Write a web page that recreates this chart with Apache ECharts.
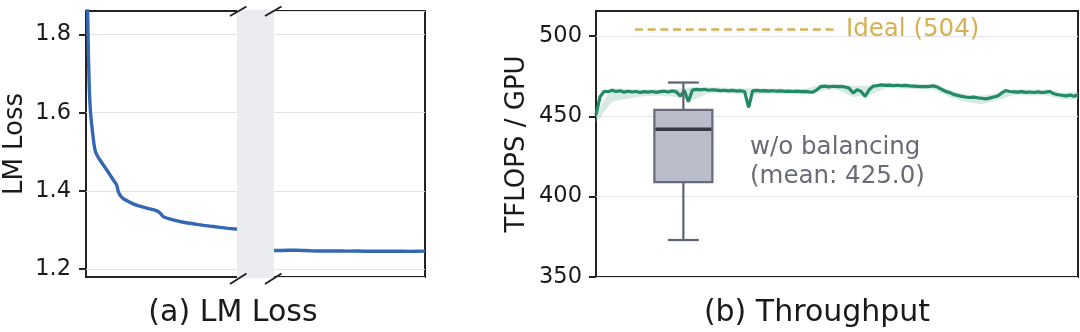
<!DOCTYPE html>
<html>
<head>
<meta charset="utf-8">
<script src="https://cdn.jsdelivr.net/npm/echarts@6/dist/echarts.min.js"></script>
<style>
  html, body { margin: 0; padding: 0; background: #ffffff; }
  #chart { width: 1080px; height: 332px; }
</style>
</head>
<body>
<div id="chart"></div>
<script>
// ---------- data ----------
// (a) LM loss, left segment: [step, loss]
const lossEarly = [[0,1.95],[1.0,1.862],[1.6,1.75],[2.2,1.66],[3.0,1.60],[4.4,1.547],[5.9,1.505],
  [7.2,1.492],[9.2,1.479],[13.6,1.454],[15.8,1.441],[18.0,1.428],[20.2,1.415],[21.3,1.398],
  [22.8,1.387],[24.6,1.380],[31.1,1.367],[35.5,1.361],[39.9,1.356],[44.3,1.352],[47.6,1.347],
  [49.3,1.341],[50.9,1.334],[57.4,1.326],[64.0,1.320],[70.6,1.316],[77.2,1.312],[83.8,1.309],
  [92.5,1.305],[100,1.302]];
// (a) LM loss, right segment (after the axis break)
const lossLate = [[100,1.2478],[105,1.2476],[110,1.2482],[115,1.2486],[120,1.2479],[125,1.2470],
  [130,1.2466],[135,1.2468],[140,1.2463],[145,1.2465],[150,1.2461],[155,1.2464],[160,1.2459],
  [165,1.2462],[170,1.2458],[175,1.2461],[180,1.2457],[185,1.2460],[190,1.2456],[195,1.2459],[200,1.2462]];
const lossTicks = [1.2, 1.4, 1.6, 1.8];

// (b) throughput, one value every 2 steps (steps 0..240)
const tflops = [
  451, 462, 465.5, 465.3, 466.2, 465.4, 465.9, 465.0, 465.6, 465.1,
  465.4, 464.8, 465.3, 465.0, 465.4, 464.9, 465.3, 465.6, 465.1, 465.8,
  465.2, 462.5, 466.0, 459.0, 466.3, 466.7, 466.4, 466.8, 466.2, 466.5,
  466.3, 466.0, 466.2, 465.8, 466.1, 465.7, 465.9, 465.4, 455.5, 465.8,
  466.1, 465.8, 466.0, 465.7, 465.9, 465.6, 465.8, 465.5, 465.7, 465.4,
  465.6, 465.3, 465.5, 465.2, 465.0, 466.5, 468.5, 468.8, 468.3, 468.7,
  468.4, 468.6, 468.2, 467.5, 464.5, 466.5, 465.5, 462.3, 466.5, 468.8,
  469.1, 469.5, 469.2, 469.4, 469.0, 469.3, 469.0, 469.2, 468.9, 468.8,
  468.6, 468.5, 468.4, 468.6, 468.9, 468.2, 466.8, 465.5, 464.8, 463.6,
  463.0, 462.4, 462.0, 461.7, 461.9, 461.5, 461.2, 460.8, 461.3, 462.0,
  462.6, 464.5, 466.0, 465.4, 465.2, 465.0, 465.3, 464.9, 465.1, 464.8,
  465.2, 464.8, 465.0, 465.5, 464.0, 463.4, 463.1, 462.7, 463.2, 462.5,
  463.4
];
const tflopsStep = 2;
// shaded min/max band around the throughput line
const bandSteps = [0,8,16,24,32,40,48,56,64,72,80,88,96,104,112,120,128,136,144,152,160,168,176,184,192,200,208,216,224,232,240];
const bandLow  = [446,459,461,462.5,463,462,460,464.5,464.3,463.8,463.5,464,463.8,463.5,466,466.8,462,463,467.5,467.3,466.8,466.8,462,459,457.5,460,463.2,463,463,460.8,460.5];
const bandHigh = [452,467.5,467,466.8,466.8,467,468,468,467.7,467.4,467.5,467.3,467.1,467,470,470,469,469,470.8,470.6,470.1,470.3,466.5,463.6,462.8,464.5,466.8,466.6,466.6,464.8,465];
// ideal throughput line
const idealValue = 504;
const idealSteps = [19.4, 120];
// box plot for "w/o balancing": [min, Q1, median, Q3, max]
const boxStep = 43.5;
const boxStats = [373, 409, 442, 454, 471];
const tflopsTicks = [350, 400, 450, 500];

// ---------- styles ----------
const FONT = 'DejaVu Sans';
const DARK = '#222222';
const GRIDC = '#e2e3ea';
const BLUE = '#3467b4';
const GREEN = '#228a68';
const GOLD = '#d6b052';
const GREYTXT = '#696b77';

const chart = echarts.init(document.getElementById('chart'), null, {renderer: 'canvas'});

function hiddenX(grid, min, max) {
  return {type: 'value', gridIndex: grid, min: min, max: max,
    axisLine: {show: false}, axisTick: {show: false}, axisLabel: {show: false}, splitLine: {show: false}};
}
const gridBox = {show: true, borderColor: DARK, borderWidth: 2, backgroundColor: 'transparent', containLabel: false};

const option = {
  animation: false,
  textStyle: {fontFamily: FONT},
  grid: [
    Object.assign({left: 86, top: 11, width: 152, height: 266}, gridBox),
    Object.assign({left: 273, top: 11, width: 152, height: 266}, gridBox),
    Object.assign({left: 596, top: 11, width: 482, height: 266}, gridBox)
  ],
  xAxis: [hiddenX(0, 0, 100), hiddenX(1, 100, 200), hiddenX(2, 0, 240)],
  yAxis: [
    {type: 'value', gridIndex: 0, min: 1.18, max: 1.86, splitNumber: 3,
      name: 'LM Loss', nameLocation: 'middle', nameGap: 58,
      nameTextStyle: {fontSize: 26, color: '#1a1a1a', fontFamily: FONT},
      axisLine: {show: false},
      axisTick: {show: true, customValues: lossTicks, length: 7, lineStyle: {color: DARK, width: 2}},
      axisLabel: {customValues: lossTicks, formatter: v => Number(v).toFixed(1), fontSize: 22.5, color: '#1a1a1a', margin: 15, fontFamily: FONT},
      splitLine: {show: true, lineStyle: {color: GRIDC, width: 1}}},
    {type: 'value', gridIndex: 1, min: 1.18, max: 1.86, splitNumber: 3,
      axisLine: {show: false}, axisTick: {show: false}, axisLabel: {show: false},
      splitLine: {show: true, lineStyle: {color: GRIDC, width: 1}}},
    {type: 'value', gridIndex: 2, min: 350, max: 515.5, splitNumber: 3,
      name: 'TFLOPS / GPU', nameLocation: 'middle', nameGap: 66,
      nameTextStyle: {fontSize: 26, color: '#1a1a1a', fontFamily: FONT},
      axisLine: {show: false},
      axisTick: {show: true, customValues: tflopsTicks, length: 7, lineStyle: {color: DARK, width: 2}},
      axisLabel: {customValues: tflopsTicks, fontSize: 22.5, color: '#1a1a1a', margin: 14, fontFamily: FONT},
      splitLine: {show: true, lineStyle: {color: GRIDC, width: 1}}}
  ],
  series: [
    {type: 'line', xAxisIndex: 0, yAxisIndex: 0, data: lossEarly, symbol: 'none', clip: true, smooth: 0.35,
      lineStyle: {color: BLUE, width: 3.4}, z: 3},
    {type: 'line', xAxisIndex: 1, yAxisIndex: 1, data: lossLate, symbol: 'none', clip: true,
      lineStyle: {color: BLUE, width: 3.4}, z: 3},
    {type: 'custom', xAxisIndex: 2, yAxisIndex: 2, clip: true, z: 2,
      data: bandSteps.map((s, i) => [s, bandLow[i], bandHigh[i]]),
      renderItem: function (params, api) {
        if (params.dataIndex !== 0) return;
        const pts = [];
        for (let i = 0; i < bandSteps.length; i++) pts.push(api.coord([bandSteps[i], bandHigh[i]]));
        for (let i = bandSteps.length - 1; i >= 0; i--) pts.push(api.coord([bandSteps[i], bandLow[i]]));
        return {type: 'polygon', shape: {points: pts}, style: {fill: 'rgba(150,200,180,0.38)'}};
      }},
    {type: 'line', xAxisIndex: 2, yAxisIndex: 2, data: tflops.map((v, i) => [i * tflopsStep, v]),
      symbol: 'none', clip: true, lineStyle: {color: GREEN, width: 3.2}, z: 3},
    {type: 'line', xAxisIndex: 2, yAxisIndex: 2, data: idealSteps.map(s => [s, idealValue]),
      symbol: 'none', lineStyle: {color: GOLD, width: 2.4, type: [8, 4.7]}, z: 3,
      endLabel: {show: true, formatter: 'Ideal (504)', color: GOLD, fontSize: 24.5, distance: 9, fontFamily: FONT}},
    {type: 'custom', xAxisIndex: 2, yAxisIndex: 2, z: 5,
      data: [[boxStep].concat(boxStats)],
      renderItem: function (params, api) {
        const x = api.value(0);
        const pMin = api.coord([x, api.value(1)]);
        const pQ1 = api.coord([x, api.value(2)]);
        const pMed = api.coord([x, api.value(3)]);
        const pQ3 = api.coord([x, api.value(4)]);
        const pMax = api.coord([x, api.value(5)]);
        const hw = 29, cw = 15.5, cx = pMin[0];
        const wl = {stroke: '#5f6272', lineWidth: 2.2};
        return {type: 'group', children: [
          {type: 'line', shape: {x1: cx, y1: pQ3[1], x2: cx, y2: pMax[1]}, style: wl},
          {type: 'line', shape: {x1: cx, y1: pQ1[1], x2: cx, y2: pMin[1]}, style: wl},
          {type: 'line', shape: {x1: cx - cw, y1: pMax[1], x2: cx + cw, y2: pMax[1]}, style: wl},
          {type: 'line', shape: {x1: cx - cw, y1: pMin[1], x2: cx + cw, y2: pMin[1]}, style: wl},
          {type: 'rect', shape: {x: cx - hw, y: pQ3[1], width: 2 * hw, height: pQ1[1] - pQ3[1]},
            style: {fill: '#b9bdca', stroke: '#676a7c', lineWidth: 2.2}},
          {type: 'line', shape: {x1: cx - hw + 1, y1: pMed[1], x2: cx + hw - 1, y2: pMed[1]},
            style: {stroke: '#363943', lineWidth: 3.5}}
        ]};
      }}
  ],
  graphic: [
    {type: 'rect', z: 100, shape: {x: 237, y: 10, width: 37, height: 268}, style: {fill: '#ebecf0'}},
    {type: 'line', z: 101, shape: {x1: 230, y1: 16, x2: 246.5, y2: 6.5}, style: {stroke: DARK, lineWidth: 2}},
    {type: 'line', z: 101, shape: {x1: 265, y1: 16, x2: 281.5, y2: 6.5}, style: {stroke: DARK, lineWidth: 2}},
    {type: 'line', z: 101, shape: {x1: 230, y1: 284, x2: 246.5, y2: 273.5}, style: {stroke: DARK, lineWidth: 2}},
    {type: 'line', z: 101, shape: {x1: 265, y1: 284, x2: 281.5, y2: 273.5}, style: {stroke: DARK, lineWidth: 2}},
    {type: 'text', z: 101, x: 233, y: 313, style: {text: '(a) LM Loss', fontSize: 30, fontFamily: FONT,
      fill: '#1a1a1a', align: 'center', verticalAlign: 'middle'}},
    {type: 'text', z: 101, x: 817, y: 313, style: {text: '(b) Throughput', fontSize: 30, fontFamily: FONT,
      fill: '#1a1a1a', align: 'center', verticalAlign: 'middle'}},
    {type: 'text', z: 101, x: 750, y: 133, style: {text: 'w/o balancing\n(mean: 425.0)', fontSize: 24.5,
      lineHeight: 29, fontFamily: FONT, fill: GREYTXT, align: 'left', verticalAlign: 'top'}}
  ]
};
chart.setOption(option);
</script>
</body>
</html>
